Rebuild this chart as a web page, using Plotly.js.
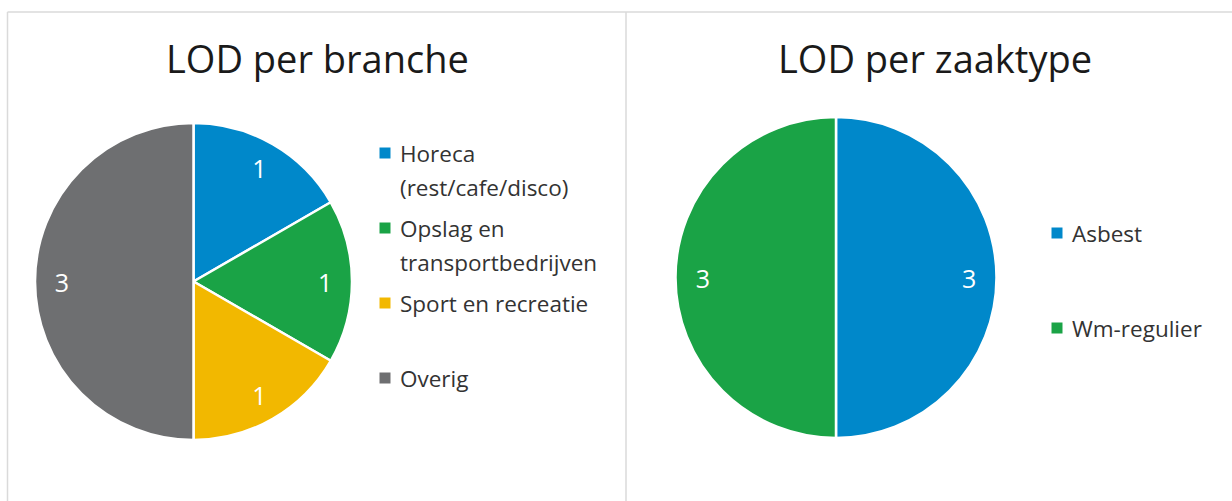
<!DOCTYPE html>
<html>
<head>
<meta charset="utf-8">
<script src="https://cdn.plot.ly/plotly-3.0.1.min.js"></script>
<style>html,body{margin:0;padding:0;background:#fff;}#chart{width:1232px;height:501px;}</style>
</head>
<body>
<div id="chart"></div>
<script>
// ---- data ----
var brancheLabels = ["Horeca (rest/cafe/disco)", "Opslag en transportbedrijven", "Sport en recreatie", "Overig"];
var brancheLegend = [["Horeca", "(rest/cafe/disco)"], ["Opslag en", "transportbedrijven"], ["Sport en recreatie"], ["Overig"]];
var brancheValues = [1, 1, 1, 3];
var brancheColors = ["#0088CA", "#1AA346", "#F2B800", "#6E6F71"];

var zaakLabels = ["Asbest", "Wm-regulier"];
var zaakValues = [3, 3];
var zaakColors = ["#0088CA", "#1AA346"];

var titles = ["LOD per branche", "LOD per zaaktype"];

// ---- layout helpers ----
var W = 1232, H = 501;
function px(x) { return x / W; }
function py(y) { return 1 - y / H; }

var FONT = "Open Sans, Noto Sans, sans-serif";

function pieTrace(labels, values, colors, dom) {
  return {
    type: "pie", labels: labels, values: values, sort: false,
    direction: "clockwise", rotation: 0,
    marker: { colors: colors, line: { color: "#ffffff", width: 2.5 } },
    textinfo: "none",
    domain: dom, showlegend: false, hoverinfo: "label+value"
  };
}
// transparent ring on top of each pie, only to place the value labels near the rim
function labelTrace(labels, values, dom) {
  return {
    type: "pie", labels: labels, values: values, sort: false,
    direction: "clockwise", rotation: 0, hole: 0.66,
    marker: { colors: labels.map(function () { return "rgba(0,0,0,0)"; }), line: { width: 0 } },
    textinfo: "value", textposition: "inside", insidetextorientation: "horizontal",
    textfont: { family: FONT, size: 25, color: "#ffffff" },
    domain: dom, showlegend: false, hoverinfo: "skip"
  };
}

var domL = { x: [px(35), px(352)], y: [py(440), py(123)] };
var domR = { x: [px(675), px(997)], y: [py(438), py(117)] };

var traces = [
  pieTrace(brancheLabels, brancheValues, brancheColors, domL),
  labelTrace(brancheLabels, brancheValues, domL),
  pieTrace(zaakLabels, zaakValues, zaakColors, domR),
  labelTrace(zaakLabels, zaakValues, domR)
];

var annotations = [];
var shapes = [];

// titles
annotations.push({ text: titles[0], x: px(317), y: py(58), xref: "paper", yref: "paper",
  xanchor: "center", yanchor: "middle", showarrow: false, font: { family: FONT, size: 38, color: "#1a1a1a" } });
annotations.push({ text: titles[1], x: px(935), y: py(58), xref: "paper", yref: "paper",
  xanchor: "center", yanchor: "middle", showarrow: false, font: { family: FONT, size: 38, color: "#1a1a1a" } });

// legends
function addLegend(lines, colors, mx, tx, y0, step) {
  lines.forEach(function (ls, i) {
    var y = y0 + i * step;
    shapes.push({ type: "rect", xref: "paper", yref: "paper",
      x0: px(mx - 5.5), x1: px(mx + 5.5), y0: py(y + 5.5), y1: py(y - 5.5),
      fillcolor: colors[i], line: { width: 0 } });
    ls.forEach(function (t, j) {
      annotations.push({ text: t, x: px(tx), y: py(y + j * 34), xref: "paper", yref: "paper",
        xanchor: "left", yanchor: "middle", showarrow: false,
        font: { family: FONT, size: 22.5, color: "#333333" } });
    });
  });
}
addLegend(brancheLegend, brancheColors, 385, 398, 153, 75);
addLegend(zaakLabels.map(function (s) { return [s]; }), zaakColors, 1057, 1070, 233, 95);

// panel borders
var bc = "#DADADA";
shapes.push({ type: "line", xref: "paper", yref: "paper", x0: px(7.5), x1: 1, y0: py(12), y1: py(12), line: { color: bc, width: 1.5 } });
shapes.push({ type: "line", xref: "paper", yref: "paper", x0: px(7.5), x1: px(7.5), y0: py(12), y1: 0, line: { color: bc, width: 1.5 } });
shapes.push({ type: "line", xref: "paper", yref: "paper", x0: px(626), x1: px(626), y0: py(12), y1: 0, line: { color: bc, width: 1.5 } });

var layout = {
  width: W, height: H,
  margin: { l: 0, r: 0, t: 0, b: 0 },
  paper_bgcolor: "#ffffff",
  plot_bgcolor: "#ffffff",
  showlegend: false,
  annotations: annotations,
  shapes: shapes,
  font: { family: FONT }
};

Plotly.newPlot("chart", traces, layout, { staticPlot: true, displayModeBar: false });
</script>
</body>
</html>
